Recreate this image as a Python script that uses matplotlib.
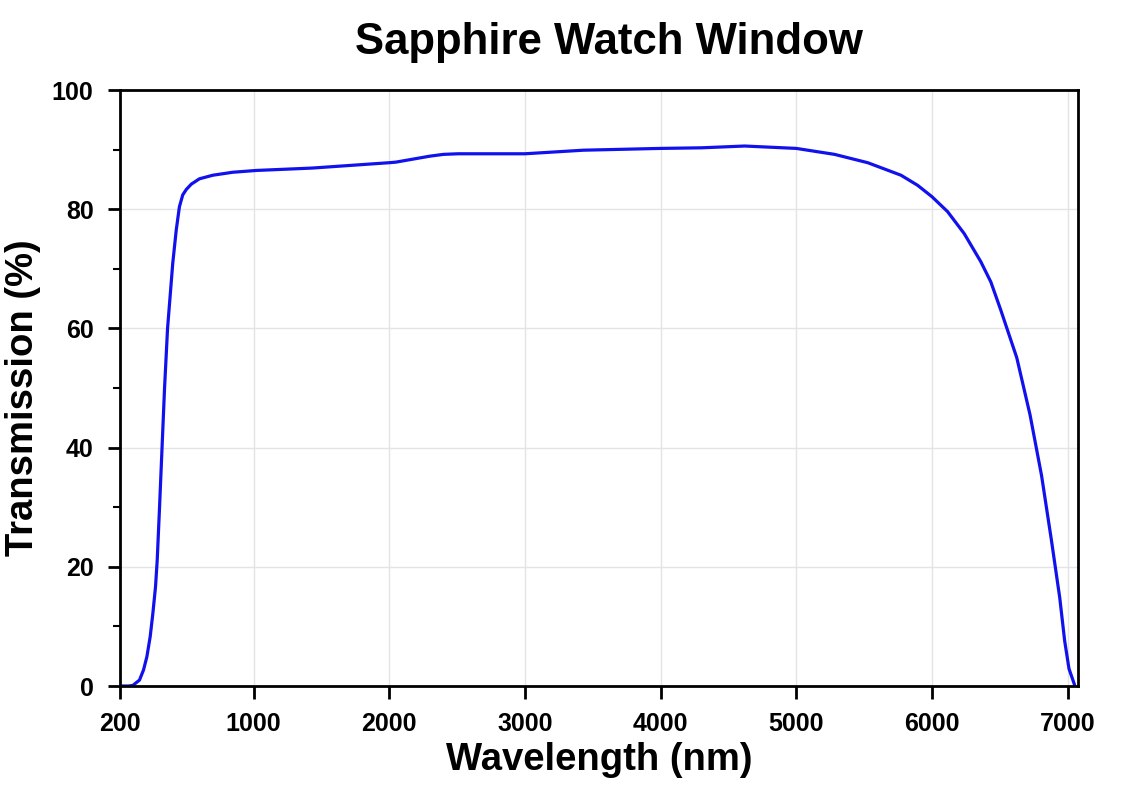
import matplotlib
matplotlib.use("Agg")
import matplotlib.pyplot as plt
import numpy as np

plt.rcParams['font.family'] = ['Liberation Sans', 'DejaVu Sans']

# readings (nm, %)
wavelength = [200, 250, 277, 317, 341, 361, 381, 397, 413, 423, 437, 452, 467,
              485, 516, 537, 556, 576, 597, 627, 676, 756, 876, 1020, 1431,
              2000, 2050, 2300, 2400, 2508, 2754, 3000, 3431, 4000, 4301, 4620,
              5000, 5282, 5527, 5772, 5895, 6000, 6115, 6238, 6360, 6434, 6507,
              6625, 6723, 6808, 6881, 6942, 6978, 7010, 7051]
transmission = [0, 0, 0.1, 1.0, 2.7, 4.9, 8.3, 12.2, 16.7, 21.1, 30.0, 40.0,
                50.0, 60.0, 70.9, 76.5, 80.4, 82.4, 83.3, 84.2, 85.1, 85.7,
                86.2, 86.5, 86.9, 87.8, 87.9, 88.9, 89.2, 89.3, 89.3, 89.3,
                89.9, 90.2, 90.3, 90.6, 90.2, 89.2, 87.8, 85.7, 84.0, 82.1,
                79.6, 75.9, 71.2, 67.8, 63.1, 55.1, 45.5, 35.3, 24.4, 14.8,
                7.6, 2.9, 0.2]
xticks = [200, 1000, 2000, 3000, 4000, 5000, 6000, 7000]
yticks = [0, 20, 40, 60, 80, 100]

# the 200-1000 segment is drawn wider than the rest of the axis
K = 1.23


def fwd(x):
    x = np.asarray(x, dtype=float)
    return np.where(x >= 1000, x, 1000 - (1000 - x) * K)


def inv(s):
    s = np.asarray(s, dtype=float)
    return np.where(s >= 1000, s, 1000 - (1000 - s) / K)


fig = plt.figure(figsize=(11.32, 8), dpi=100)
ax = fig.add_axes([0.106, 0.1425, 0.846, 0.745])
ax.set_xscale('function', functions=(fwd, inv))

ax.plot(wavelength, transmission, color='#1111ee', lw=2.3,
        solid_joinstyle='round', solid_capstyle='round')

ax.set_xlim(200, 7074)
ax.set_ylim(0, 100)
ax.set_xticks(xticks)
ax.set_xticklabels([str(t) for t in xticks])
ax.set_yticks(yticks)
ax.set_yticks([10, 30, 50, 70, 90], minor=True)
ax.xaxis.set_minor_locator(matplotlib.ticker.NullLocator())

ax.grid(True, which='major', color='#e4e4e4', lw=1)
ax.set_axisbelow(True)
for sp in ax.spines.values():
    sp.set_linewidth(2)
ax.tick_params(axis='both', which='major', direction='out', length=9, width=2,
               labelsize=18, pad=10)
ax.tick_params(axis='y', which='minor', direction='out', length=5, width=1.5)
for lab in ax.get_xticklabels() + ax.get_yticklabels():
    lab.set_fontweight('bold')

ax.set_title('Sapphire Watch Window', fontsize=31.5, fontweight='bold',
             pad=26, x=0.511)
ax.set_xlabel('Wavelength (nm)', fontsize=27.5, fontweight='bold', labelpad=4)
ax.set_ylabel('Transmission (%)', fontsize=27.5, fontweight='bold')
ax.yaxis.set_label_coords(-0.083, 0.483)

fig.savefig('out.png', dpi=100)
